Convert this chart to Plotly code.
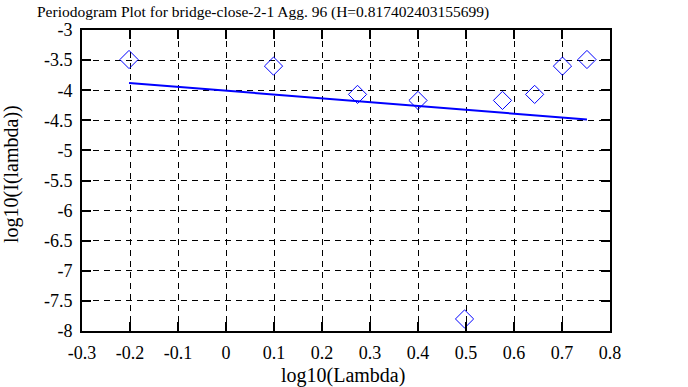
import plotly.graph_objects as go

# Data
log_lambda = [-0.202, 0.099, 0.274, 0.400, 0.497, 0.576, 0.643, 0.701, 0.752]
log_I = [-3.49, -3.60, -4.07, -4.17, -7.80, -4.17, -4.07, -3.60, -3.49]
fit_x = [-0.202, 0.752]
fit_y = [-3.88, -4.486]

title_text = "Periodogram Plot for bridge-close-2-1 Agg. 96 (H=0.817402403155699)"
x_ticks = [-0.3, -0.2, -0.1, 0, 0.1, 0.2, 0.3, 0.4, 0.5, 0.6, 0.7, 0.8]
x_ticklabels = ["-0.3", "-0.2", "-0.1", "0", "0.1", "0.2", "0.3", "0.4", "0.5", "0.6", "0.7", "0.8"]
y_ticks = [-3, -3.5, -4, -4.5, -5, -5.5, -6, -6.5, -7, -7.5, -8]
y_ticklabels = ["-3", "-3.5", "-4", "-4.5", "-5", "-5.5", "-6", "-6.5", "-7", "-7.5", "-8"]

FONT = "Liberation Serif"
TICKFONT = dict(family=FONT, size=18, color="black")
TITLEFONT = dict(family=FONT, size=15.5, color="black")
LABELFONT = dict(family=FONT, size=20, color="black")

fig = go.Figure()
fig.add_trace(go.Scatter(
    x=log_lambda, y=log_I, mode="markers",
    marker=dict(symbol="diamond-open", size=14, color="#0000ff", line=dict(width=1, color="#0000ff")),
    showlegend=False))
fig.add_trace(go.Scatter(
    x=fit_x, y=fit_y, mode="lines",
    line=dict(color="#0000ff", width=2), showlegend=False))

W, H = 688, 387
ml, mr, mt, mb = 82, 78, 30, 56
axis_common = dict(showgrid=True, gridcolor="black", griddash="6px,5px", gridwidth=1,
                   showline=True, linecolor="black", linewidth=2, mirror="ticks",
                   ticks="inside", ticklen=9, tickwidth=2, tickcolor="black",
                   zeroline=False, ticklabelstandoff=4, tickfont=TICKFONT)
fig.update_layout(
    width=W, height=H,
    margin=dict(l=ml, r=mr, t=mt, b=mb),
    paper_bgcolor="white", plot_bgcolor="white",
    font=TICKFONT,
    xaxis=dict(range=[-0.3, 0.8], tickvals=x_ticks, ticktext=x_ticklabels, **axis_common),
    yaxis=dict(range=[-8, -3], tickvals=y_ticks, ticktext=y_ticklabels, **axis_common),
)

pw = W - ml - mr
ph = H - mt - mb
fig.add_annotation(text=title_text, xref="paper", yref="paper",
                   x=(263 - ml) / pw, y=1 + (mt - 12) / ph, showarrow=False,
                   xanchor="center", yanchor="middle", font=TITLEFONT)
fig.add_annotation(text="log10(Lambda)", xref="paper", yref="paper",
                   x=(343 - ml) / pw, y=-(375 - (H - mb)) / ph, showarrow=False,
                   xanchor="center", yanchor="middle", font=LABELFONT)
fig.add_annotation(text="log10(I(lambda))", xref="paper", yref="paper",
                   x=-(ml - 11) / pw, y=1 - (174 - mt) / ph, showarrow=False,
                   textangle=-90, xanchor="center", yanchor="middle", font=LABELFONT)

html = fig.to_html(full_html=True, include_plotlyjs=True, config={"displayModeBar": False})
html = html.replace("<head>", "<head><style>html,body{margin:0;padding:0;}</style>", 1)
with open("out.html", "w", encoding="utf-8") as fh:
    fh.write(html)
# (equivalent to fig.write_html("out.html") with zero page margin)
